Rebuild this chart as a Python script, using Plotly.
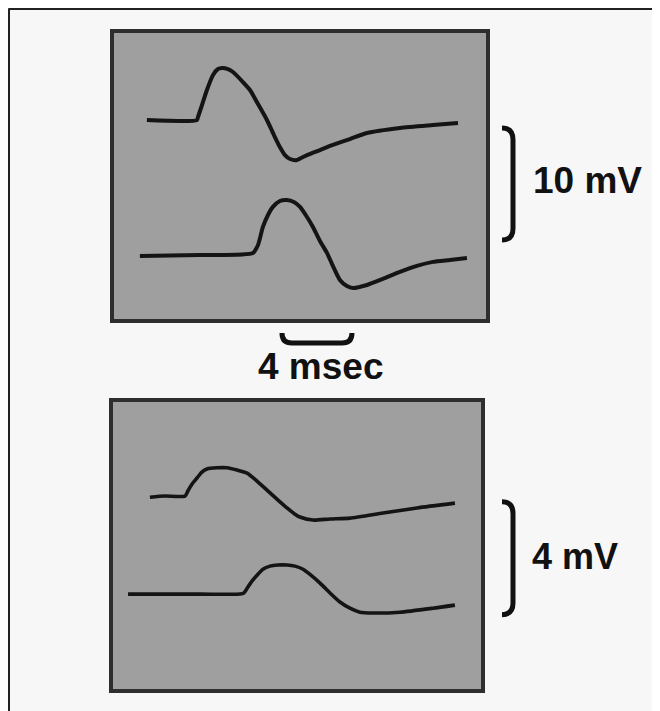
import plotly.graph_objects as go

# ---------------- data (time in ms, potential in mV relative to each trace's baseline)
# Upper panel, upper trace
t_up_1 = [2.11, 4.97, 5.03, 5.26, 5.54, 5.89, 6.17, 6.40, 6.74, 7.03, 7.60, 8.00, 8.46,
          8.97, 9.37, 9.71, 10.00, 10.29, 10.69, 11.26, 12.00, 12.74, 13.71, 14.69,
          16.57, 18.46, 19.89]
v_up_1 = [0.0, 0.0, 0.27, 1.34, 2.68, 4.02, 4.55, 4.64, 4.55, 4.29, 3.39, 2.68, 1.43,
          0.0, -1.34, -2.41, -3.13, -3.48, -3.57, -3.13, -2.68, -2.23, -1.70, -1.16,
          -0.71, -0.45, -0.27]
# Upper panel, lower trace
t_up_2 = [1.71, 5.14, 8.17, 8.46, 8.74, 9.03, 9.31, 9.71, 10.11, 10.51, 10.86, 11.26,
          11.60, 12.00, 12.40, 12.74, 13.14, 13.54, 13.89, 14.69, 15.60, 16.57, 17.54,
          18.46, 19.43, 20.40]
v_up_2 = [-0.18, -0.09, 0.09, 0.80, 2.41, 3.48, 4.20, 4.73, 4.82, 4.64, 4.20, 3.30,
          2.41, 1.16, 0.09, -1.07, -2.32, -2.86, -3.04, -2.77, -2.23, -1.61, -1.07,
          -0.71, -0.54, -0.36]
# Lower panel, upper trace
t_lo_1 = [2.34, 3.20, 4.34, 4.51, 4.74, 5.03, 5.31, 5.60, 6.17, 6.74, 7.31, 7.89, 8.46,
          9.03, 9.60, 10.17, 10.63, 10.91, 11.66, 12.63, 13.77, 15.66, 17.60, 19.77]
v_lo_1 = [-0.04, 0.0, 0.0, 0.18, 0.42, 0.64, 0.85, 0.96, 1.00, 1.00, 0.92, 0.81, 0.53,
          0.21, -0.11, -0.42, -0.64, -0.74, -0.85, -0.81, -0.78, -0.60, -0.42, -0.25]
# Lower panel, lower trace
t_lo_2 = [1.09, 5.20, 7.49, 7.71, 7.94, 8.17, 8.46, 8.80, 9.20, 9.66, 10.17, 10.63,
          11.09, 11.54, 12.06, 12.63, 13.20, 13.77, 14.34, 15.09, 16.63, 18.51, 19.77]
v_lo_2 = [0.0, 0.0, 0.0, 0.04, 0.25, 0.46, 0.67, 0.88, 0.99, 1.03, 1.03, 0.99, 0.88,
          0.67, 0.39, 0.04, -0.28, -0.50, -0.64, -0.67, -0.64, -0.50, -0.39]

scale_labels = ["10 mV", "4 msec", "4 mV"]
scale_up_mv = 10
scale_lo_mv = 4
scale_ms = 4

# ---------------- display layout
# the page body keeps its default 8px margin, so the figure starts at (8, 8)
OX, OY = 8, 8
FW, FH = 660, 711

OFF_UP_2 = -11.96   # vertical display offset of the second trace (mV)
OFF_LO_2 = -3.47
TRACE = dict(color="#141414", width=4, shape="spline", smoothing=0.6)

fig = go.Figure()
fig.add_trace(go.Scatter(x=t_up_1, y=v_up_1, mode="lines", line=TRACE, xaxis="x", yaxis="y"))
fig.add_trace(go.Scatter(x=t_up_2, y=[v + OFF_UP_2 for v in v_up_2], mode="lines", line=TRACE,
                         xaxis="x", yaxis="y"))
fig.add_trace(go.Scatter(x=t_lo_1, y=v_lo_1, mode="lines", line=dict(TRACE, width=3.6),
                         xaxis="x2", yaxis="y2"))
fig.add_trace(go.Scatter(x=t_lo_2, y=[v + OFF_LO_2 for v in v_lo_2], mode="lines",
                         line=dict(TRACE, width=3.6), xaxis="x2", yaxis="y2"))


def px(x):
    return (x - OX) / FW


def py(y):
    return 1 - (y - OY) / FH


AX = dict(showgrid=False, zeroline=False, showticklabels=False, ticks="",
          showline=True, mirror=True, linecolor="#2e2e2e", linewidth=4, fixedrange=True)

fig.update_layout(
    width=FW, height=FH, margin=dict(l=0, r=0, t=0, b=0),
    paper_bgcolor="#f7f7f7", plot_bgcolor="#9f9f9f", showlegend=False,
    xaxis=dict(AX, domain=[px(114), px(486)], range=[0.23, 21.49], anchor="y"),
    yaxis=dict(AX, domain=[py(319), py(33)], range=[-17.77, 7.77], anchor="x"),
    xaxis2=dict(AX, domain=[px(113), px(481)], range=[0.23, 21.26], anchor="y2"),
    yaxis2=dict(AX, domain=[py(689), py(402)], range=[-6.83, 3.33], anchor="x2"),
)

BR = dict(color="#111111", width=5)


def vbracket(yref, y_top, y_bot, r):
    xl, xr = px(502), px(513)
    return dict(type="path", xref="paper", yref=yref, line=BR,
                path=(f"M {xl},{y_top} Q {xr},{y_top} {xr},{y_top - r} "
                      f"L {xr},{y_bot + r} Q {xr},{y_bot} {xl},{y_bot}"))


shapes = []
# outer frame (top and left)
shapes.append(dict(type="line", xref="paper", yref="paper", x0=px(8.5), x1=1, y0=py(9), y1=py(9),
                   line=dict(color="#222222", width=2)))
shapes.append(dict(type="line", xref="paper", yref="paper", x0=px(9), x1=px(9), y0=0, y1=py(8.5),
                   line=dict(color="#222222", width=2)))
# voltage scale bars
top_hi = -0.71
shapes.append(vbracket("y", top_hi, top_hi - scale_up_mv, 1.05))
lo_hi = -0.2
shapes.append(vbracket("y2", lo_hi, lo_hi - scale_lo_mv, 0.42))
# time scale bar
t0 = 9.83
t1 = t0 + scale_ms
r_t = 0.57
ya, yb = py(333), py(343)
shapes.append(dict(type="path", xref="x", yref="paper", line=BR,
                   path=(f"M {t0},{ya} Q {t0},{yb} {t0 + r_t},{yb} "
                         f"L {t1 - r_t},{yb} Q {t1},{yb} {t1},{ya}")))
fig.update_layout(shapes=shapes)

FONT = dict(family="Liberation Sans, Arial, sans-serif", size=37, color="#111111", weight="bold")
fig.add_annotation(text=scale_labels[0], xref="paper", yref="paper", x=px(531), y=py(180),
                   xanchor="left", yanchor="middle", showarrow=False, font=FONT)
fig.add_annotation(text=scale_labels[1], xref="paper", yref="paper", x=px(321), y=py(366),
                   xanchor="center", yanchor="middle", showarrow=False, font=FONT)
fig.add_annotation(text=scale_labels[2], xref="paper", yref="paper", x=px(530), y=py(556),
                   xanchor="left", yanchor="middle", showarrow=False, font=dict(FONT, size=36))

fig.write_html("out.html")
